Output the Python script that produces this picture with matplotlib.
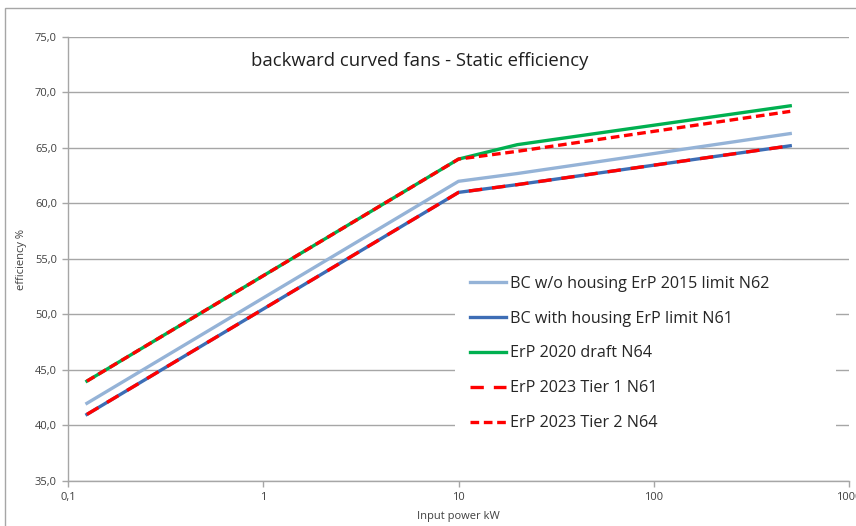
import matplotlib
matplotlib.use('Agg')
import matplotlib.pyplot as plt
from matplotlib.ticker import FixedLocator, FuncFormatter, NullLocator
import matplotlib.patches as mpatches

# input power (kW) and efficiency (%)
power = [0.125, 10, 20, 500]
n62_no_housing = [42.0, 62.0, 62.7, 66.3]
n61_housing = [41.0, 61.0, 61.7, 65.2]
erp2020_n64 = [44.0, 64.0, 65.3, 68.8]
tier1_n61 = [41.0, 61.0, 61.7, 65.2]
tier2_n64 = [44.0, 64.0, 64.7, 68.3]

labels = ['BC w/o housing ErP 2015 limit N62', 'BC with housing ErP limit N61',
          'ErP 2020 draft N64', 'ErP 2023 Tier 1 N61', 'ErP 2023 Tier 2 N64']
yticks = [35, 40, 45, 50, 55, 60, 65, 70, 75]
xticks = [0.1, 1, 10, 100, 1000]

plt.rcParams['font.family'] = ['Open Sans', 'DejaVu Sans']

fig = plt.figure(figsize=(8.56, 5.26), dpi=100)
# chart area border
fig.patches.append(mpatches.Rectangle((5/856, -0.1), 2, 1.1 - 8/526, transform=fig.transFigure,
                                      fill=False, edgecolor='#a6a6a6', linewidth=1.0))
ax = fig.add_axes([68/856, 1 - 481/526, (849-68)/856, (481-37)/526])

lw = 2.4
ax.plot(power, n62_no_housing, color='#95b3d7', lw=lw, label=labels[0], zorder=3)
ax.plot(power, n61_housing, color='#3d6db5', lw=lw, label=labels[1], zorder=3)
ax.plot(power, erp2020_n64, color='#00b050', lw=lw, label=labels[2], zorder=3)
ax.plot(power, tier1_n61, color='#ff0000', lw=lw, ls=(0, (4.0, 3.0)), label=labels[3], zorder=4)
ax.plot(power, tier2_n64, color='#ff0000', lw=lw, ls=(0, (2.6, 1.4)), label=labels[4], zorder=4)

ax.set_xscale('log')
ax.set_xlim(0.1, 1000)
ax.set_ylim(35, 75)
ax.xaxis.set_major_locator(FixedLocator(xticks))
ax.xaxis.set_minor_locator(NullLocator())
ax.xaxis.set_major_formatter(FuncFormatter(lambda v, p: ('%g' % v).replace('.', ',')))
ax.set_yticks(yticks)
ax.yaxis.set_major_formatter(FuncFormatter(lambda v, p: ('%.1f' % v).replace('.', ',')))
ax.grid(axis='y', color='#a6a6a6', linewidth=1.0, zorder=0)
ax.set_axisbelow(True)
for s in ['top', 'right']:
    ax.spines[s].set_visible(False)
for s in ['left', 'bottom']:
    ax.spines[s].set_color('#a6a6a6')
    ax.spines[s].set_linewidth(1.0)
ax.tick_params(axis='both', colors='#a6a6a6', length=4, width=1.0, labelcolor='#404040',
               labelsize=8, pad=4, direction='out')

ax.set_xlabel('Input power kW', fontsize=8, color='#404040', labelpad=6)
ax.set_ylabel('efficiency %', fontsize=8, color='#404040', labelpad=6)
ax.text(0.45, 0.947, 'backward curved fans - Static efficiency', transform=ax.transAxes,
        ha='center', va='center', fontsize=13.3, color='#202020')

# white legend area is wider than the entries, hides gridlines up to near the right edge
ax.add_patch(mpatches.Rectangle((0.496, 0.081), 0.487, 0.412, transform=ax.transAxes,
                                facecolor='white', edgecolor='none', zorder=2))

leg = ax.legend(loc='upper left', bbox_to_anchor=(0.486, 0.513), frameon=True, fontsize=11.6,
                handlelength=2.2, handletextpad=0.3, labelspacing=1.17, borderpad=0.9)
leg.get_frame().set_facecolor('white')
leg.get_frame().set_edgecolor('white')
leg.get_frame().set_alpha(1.0)
for t in leg.get_texts():
    t.set_color('#262626')

fig.savefig('out.png', dpi=100)
